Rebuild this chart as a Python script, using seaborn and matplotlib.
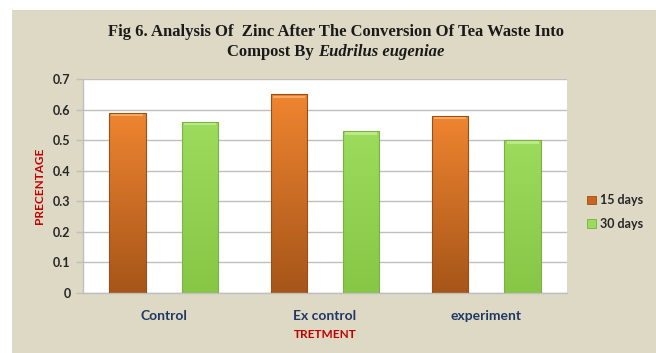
import numpy as np
import pandas as pd
import seaborn as sns
import matplotlib.pyplot as plt
from matplotlib.patches import Rectangle
from matplotlib.colors import LinearSegmentedColormap

# Zinc content (%) in compost for each treatment
treatments = ["Control", "Ex control", "experiment"]
periods = ["15 days", "30 days"]
zinc_15_days = [0.59, 0.65, 0.58]
zinc_30_days = [0.56, 0.53, 0.50]
y_ticks = [0, 0.1, 0.2, 0.3, 0.4, 0.5, 0.6, 0.7]

df = pd.DataFrame({
    "Treatment": treatments * 2,
    "Period": [periods[0]] * len(treatments) + [periods[1]] * len(treatments),
    "Zinc": zinc_15_days + zinc_30_days,
})

sns.set_theme(style="white")
plt.rcParams["font.family"] = ["Lato", "DejaVu Sans"]

W, H = 656, 353
fig = plt.figure(figsize=(W / 100, H / 100), dpi=100)
fig.patch.set_facecolor("white")
panel = "#DDD9C4"
fig.patches.append(Rectangle((12 / W, 0), 1 - 12 / W, 1 - 10 / H,
                             transform=fig.transFigure, facecolor=panel,
                             edgecolor="none", zorder=-10))

left, right, top, bottom = 83, 567, 79, 293
ax = fig.add_axes([left / W, 1 - bottom / H, (right - left) / W, (bottom - top) / H])
ax.set_facecolor("white")

orange_top, orange_bot = "#EF8530", "#A65519"
green_top, green_bot = "#9CDB5C", "#88C646"

sns.barplot(data=df, x="Treatment", y="Zinc", hue="Period",
            palette=[orange_top, green_top], saturation=1,
            width=0.9, gap=0.5, ax=ax, legend=False,
            edgecolor="none", linewidth=0)

# vertical gradient fill inside every bar
grad = np.linspace(1, 0, 256).reshape(-1, 1)
for bar in list(ax.patches):
    fc = bar.get_facecolor()
    is_orange = fc[0] > 0.8
    c_top, c_bot = (orange_top, orange_bot) if is_orange else (green_top, green_bot)
    edge = "#9A4F17" if is_orange else "#7DB043"
    cmap = LinearSegmentedColormap.from_list("g", [c_bot, c_top])
    x0, w, h = bar.get_x(), bar.get_width(), bar.get_height()
    im = ax.imshow(grad, cmap=cmap, extent=[x0, x0 + w, 0, h], aspect="auto",
                   origin="upper", zorder=2, interpolation="bilinear")
    im.set_clip_path(bar)
    bar.set_facecolor("none")
    bar.set_edgecolor(edge)
    bar.set_linewidth(0.8)
    bar.set_zorder(3)
    # light bevel along the top edge
    hl = "#F7B36E" if is_orange else "#C4EE96"
    ax.add_patch(Rectangle((x0 + w * 0.06, h - 0.012), w * 0.88, 0.008,
                           facecolor=hl, edgecolor="none", alpha=0.8, zorder=3))

ax.set_xlim(-0.5, len(treatments) - 0.5)
ax.set_ylim(0, 0.7)
ax.set_yticks(y_ticks)
ax.set_yticklabels(["0" if t == 0 else f"{t:.1f}" for t in y_ticks],
                   fontweight="bold", fontsize=9, color="#262626")
ax.set_xticks(range(len(treatments)))
ax.set_xticklabels(treatments, fontweight="bold", fontsize=10, color="#1F3864")
ax.yaxis.grid(True, color="#BFBFBF", linewidth=1)
ax.set_axisbelow(True)
for s in ["top", "right"]:
    ax.spines[s].set_visible(False)
for s in ["left", "bottom"]:
    ax.spines[s].set_color("#BFBFBF")
    ax.spines[s].set_linewidth(1)
ax.tick_params(axis="y", which="both", left=True, length=5, width=1,
               color="#BFBFBF", pad=4)
ax.tick_params(axis="x", bottom=False, pad=6)

ax.set_xlabel("TRETMENT", color="#C00000", fontsize=8.5, fontweight="bold")
ax.set_ylabel("PRECENTAGE", color="#C00000", fontsize=8.5, fontweight="bold")
ax.xaxis.set_label_coords(0.5, -(334 - bottom) / (bottom - top), transform=ax.transAxes)
ax.yaxis.set_label_coords(-(left - 40) / (right - left), 0.5, transform=ax.transAxes)
ax.xaxis.label.set_va("center")
ax.yaxis.label.set_va("center")

# legend with small square keys
handles = [Rectangle((0, 0), 1, 1, facecolor=c, edgecolor=e, linewidth=0.6)
           for c, e in [("#C8661F", "#9A4F17"), (green_top, "#7DB043")]]
leg = fig.legend(handles, periods, loc="center left",
                 bbox_to_anchor=(576 / W, 1 - 212 / H), frameon=False,
                 handlelength=0.7, handleheight=0.7, handletextpad=0.3,
                 labelspacing=0.9, prop={"size": 9, "weight": "bold"})
for t in leg.get_texts():
    t.set_color("#262626")

# title, second line mixes upright and italic text
title_font = dict(family="Liberation Serif", fontweight="bold", fontsize=12, color="#1A1A1A")
cx = 336 / W
fig.text(cx, 1 - 32 / H, "Fig 6. Analysis Of  Zinc After The Conversion Of Tea Waste Into",
         ha="center", va="center", **title_font)
r = fig.canvas.get_renderer()
t1 = fig.text(0, 1 - 52 / H, "Compost By ", ha="left", va="center", **title_font)
t2 = fig.text(0, 1 - 52 / H, "Eudrilus eugeniae", ha="left", va="center",
              fontstyle="italic", **title_font)
w1 = t1.get_window_extent(r).width / W
w2 = t2.get_window_extent(r).width / W
start = cx - (w1 + w2) / 2
t1.set_x(start)
t2.set_x(start + w1)

fig.savefig("out.png", dpi=100, facecolor=fig.get_facecolor())
